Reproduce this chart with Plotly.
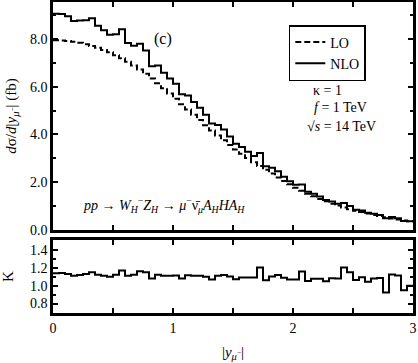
import numpy as np
import plotly.graph_objects as go

# |y_mu-| histogram, 60 bins of width 0.05 from 0 to 3
bin_width = 0.05
n_bins = 60

lo = [7.95, 7.94, 7.92, 7.88, 7.84, 7.78, 7.71, 7.63, 7.54, 7.44,
      7.32, 7.19, 7.05, 6.89, 6.72, 6.54, 6.35, 6.15, 5.94, 5.72,
      5.50, 5.27, 5.05, 4.83, 4.61, 4.39, 4.17, 3.96, 3.76, 3.56,
      3.37, 3.19, 3.01, 2.84, 2.68, 2.52, 2.37, 2.20, 2.05, 1.91,
      1.77, 1.64, 1.52, 1.41, 1.30, 1.20, 1.10, 1.02, 0.94, 0.87,
      0.80, 0.75, 0.69, 0.63, 0.58, 0.53, 0.48, 0.44, 0.40, 0.36]

nlo = [9.06, 9.05, 8.95, 8.75, 8.78, 8.79, 8.87, 8.55, 8.37, 8.18,
       8.20, 8.41, 7.83, 7.72, 7.80, 7.52, 6.86, 6.89, 6.59, 6.35,
       6.13, 5.69, 5.63, 5.36, 5.12, 4.83, 4.46, 4.40, 4.21, 3.92,
       3.61, 3.48, 3.28, 3.10, 3.22, 2.67, 2.61, 2.46, 2.23, 2.04,
       1.89, 1.90, 1.60, 1.52, 1.40, 1.26, 1.19, 1.10, 1.13, 1.00,
       0.85, 0.82, 0.72, 0.68, 0.63, 0.49, 0.54, 0.49, 0.38, 0.36]

x_tickvals = [0, 0.5, 1, 1.5, 2, 2.5, 3]
x_ticktext = ["0", "", "1", "", "2", "", "3"]
k_tickvals = [0.8, 1.0, 1.2, 1.4]

edges = np.round(np.arange(n_bins + 1) * bin_width, 3)
k_factor = np.array(nlo) / np.array(lo)


def steps(vals):
    vals = list(vals)
    return vals + [vals[-1]]


SERIF = "Liberation Serif"
BLACK = "black"

fig = go.Figure()
fig.add_trace(go.Scatter(x=edges, y=steps(lo), mode="lines", line_shape="hv",
                         line=dict(color=BLACK, width=2, dash="6px,3px"),
                         name="LO", xaxis="x", yaxis="y"))
fig.add_trace(go.Scatter(x=edges, y=steps(nlo), mode="lines", line_shape="hv",
                         line=dict(color=BLACK, width=2),
                         name="NLO", xaxis="x", yaxis="y"))
fig.add_trace(go.Scatter(x=edges, y=steps(k_factor), mode="lines", line_shape="hv",
                         line=dict(color=BLACK, width=2),
                         showlegend=False, xaxis="x2", yaxis="y2"))

axis_common = dict(showline=True, linewidth=2.5, linecolor=BLACK, mirror="allticks",
                   ticks="inside", tickwidth=2, tickcolor=BLACK, showgrid=False,
                   zeroline=False, automargin=False,
                   tickfont=dict(family=SERIF, size=14, color=BLACK))

fig.update_layout(
    width=418, height=363,
    margin=dict(l=53, r=5, t=2, b=50),
    paper_bgcolor="white", plot_bgcolor="white",
    font=dict(family=SERIF, size=14, color=BLACK),
    xaxis=dict(axis_common, domain=[0, 1], range=[0, 3], anchor="y",
               tickvals=x_tickvals, ticktext=[""] * len(x_tickvals), ticklen=5),
    yaxis=dict(axis_common, domain=[0.267, 1], range=[0, 9.55], anchor="x",
               dtick=2, tickformat=".1f", ticklen=5,
               minor=dict(dtick=1, ticks="inside", ticklen=3, tickwidth=2, tickcolor=BLACK),
               title=dict(text="<i>d</i>σ/<i>d</i>|<i>y</i><sub><i>μ</i><sup>−</sup></sub>| (fb)",
                          font=dict(family=SERIF, size=15), standoff=10)),
    xaxis2=dict(axis_common, domain=[0, 1], range=[0, 3], anchor="y2",
                tickvals=x_tickvals, ticktext=x_ticktext, ticklen=5,
                title=dict(text="|<i>y</i><sub><i>μ</i><sup>−</sup></sub>|",
                           font=dict(family=SERIF, size=15), standoff=12)),
    yaxis2=dict(axis_common, domain=[0, 0.235], range=[0.695, 1.51], anchor="x2",
                tickvals=k_tickvals, tickformat=".1f", ticklen=5,
                minor=dict(dtick=0.1, ticks="inside", ticklen=3, tickwidth=2, tickcolor=BLACK),
                title=dict(text="K", font=dict(family=SERIF, size=15), standoff=14)),
    legend=dict(x=0.655, y=0.926, xanchor="left", yanchor="top",
                bordercolor=BLACK, borderwidth=1.5, bgcolor="white",
                font=dict(family=SERIF, size=14), itemwidth=30, tracegroupgap=0),
)

ann_font = dict(family=SERIF, size=14, color=BLACK)
fig.add_annotation(x=0.914, y=7.98, xref="x", yref="y", text="(c)", showarrow=False,
                   font=dict(family=SERIF, size=16, color=BLACK))
fig.add_annotation(x=2.15, y=5.85, xref="x", yref="y", xanchor="left",
                   text="κ = 1", showarrow=False, font=ann_font)
fig.add_annotation(x=2.16, y=5.11, xref="x", yref="y", xanchor="left",
                   text="<i>f</i> = 1 TeV", showarrow=False, font=ann_font)
fig.add_annotation(x=2.10, y=4.34, xref="x", yref="y", xanchor="left",
                   text="√<i>s</i> = 14 TeV", showarrow=False, font=ann_font)
fig.add_annotation(x=0.235, y=1.05, xref="x", yref="y", xanchor="left",
                   text="<i>pp</i> → <i>W</i><sub><i>H</i></sub><sup>−</sup><i>Z</i><sub><i>H</i></sub>"
                        " → <i>μ</i><sup>−</sup>ν̄<sub><i>μ</i></sub><i>A</i><sub><i>H</i></sub>"
                        "<i>HA</i><sub><i>H</i></sub>",
                   showarrow=False, font=ann_font)

# the page body has an 8px default margin; drop it so the figure sits at the window corner
fig.write_html("out.html", config={"displayModeBar": False},
               post_script="document.body.style.margin='0px';")
